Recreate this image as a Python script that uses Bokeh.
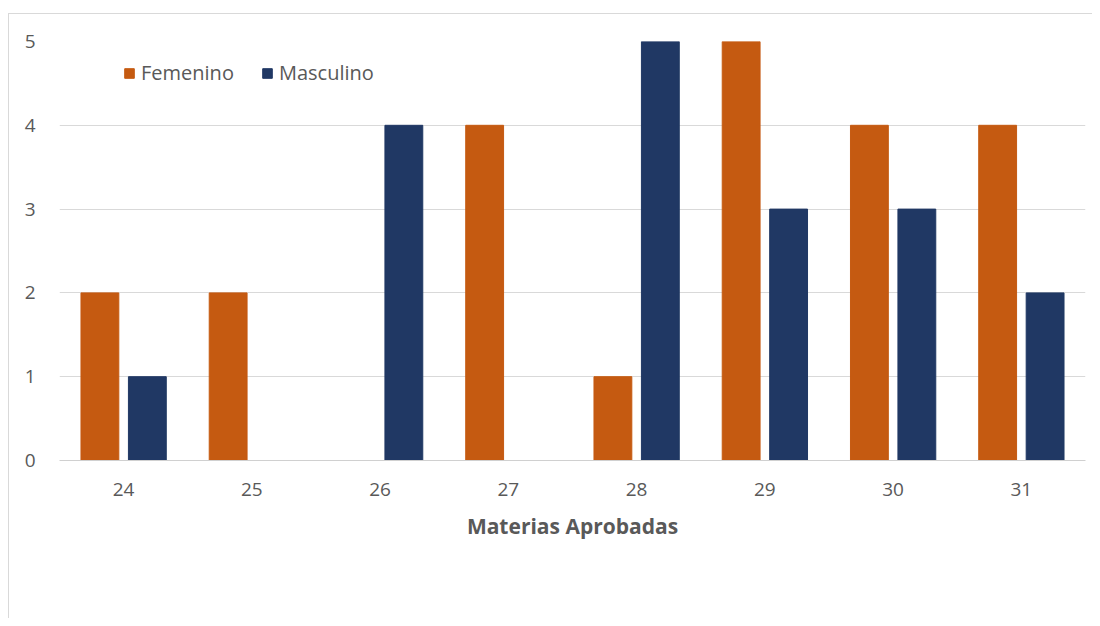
from bokeh.plotting import figure
from bokeh.models import ColumnDataSource, FactorRange, Legend, LegendItem
from bokeh.transform import dodge
from bokeh.embed import file_html
from bokeh.resources import INLINE

categories = ["24", "25", "26", "27", "28", "29", "30", "31"]
femenino = [2, 2, 0, 4, 1, 5, 4, 4]
masculino = [1, 0, 4, 0, 5, 3, 3, 2]
y_ticks = [0, 1, 2, 3, 4, 5]

src = ColumnDataSource(dict(x=categories, fem=femenino, masc=masculino))

FONT = "Open Sans"
GRAY = "#595959"

p = figure(x_range=FactorRange(*categories), y_range=(0, 5),
           width=1084, height=605, output_backend="svg", toolbar_location=None,
           min_border_left=50, min_border_right=8, min_border_top=27, min_border_bottom=159)
p.margin = (13, 0, 0, 8)
p.styles = {"border-top": "1px solid #d9d9d9", "border-left": "1px solid #d9d9d9"}
p.x_range.range_padding = 0
p.outline_line_color = None

r1 = p.vbar(x=dodge("x", -0.185, range=p.x_range), top="fem", width=0.295, source=src,
            fill_color="#C55A11", line_color="#C55A11")
r2 = p.vbar(x=dodge("x", 0.185, range=p.x_range), top="masc", width=0.295, source=src,
            fill_color="#203864", line_color="#203864")

p.xgrid.grid_line_color = None
p.ygrid.grid_line_color = "#d9d9d9"
p.ygrid.grid_line_width = 1
p.yaxis.ticker = y_ticks
p.yaxis.axis_line_color = None
p.yaxis.major_tick_line_color = None
p.yaxis.minor_tick_line_color = None
p.yaxis.major_label_text_font = FONT
p.yaxis.major_label_text_font_size = "19px"
p.yaxis.major_label_text_color = GRAY
p.yaxis.major_label_standoff = 18

p.xaxis.axis_line_color = "#d0d0d0"
p.xaxis.major_tick_line_color = None
p.xaxis.minor_tick_line_color = None
p.xaxis.major_label_text_font = FONT
p.xaxis.major_label_text_font_size = "19px"
p.xaxis.major_label_text_color = GRAY
p.xaxis.major_label_standoff = 16
p.xaxis.axis_label = "Materias Aprobadas"
p.xaxis.axis_label_text_font = FONT
p.xaxis.axis_label_text_font_size = "21px"
p.xaxis.axis_label_text_font_style = "bold"
p.xaxis.axis_label_text_color = GRAY
p.xaxis.axis_label_standoff = 13

legend = Legend(items=[LegendItem(label="Femenino", renderers=[r1]),
                       LegendItem(label="Masculino", renderers=[r2])],
                orientation="horizontal", location=(64, 374))
legend.border_line_color = None
legend.background_fill_alpha = 0
legend.padding = 0
legend.margin = 0
legend.spacing = 27
legend.glyph_width = 12
legend.glyph_height = 12
legend.label_standoff = 6
legend.label_text_font = FONT
legend.label_text_font_size = "20px"
legend.label_text_color = GRAY
p.add_layout(legend)

open("out.html", "w").write(file_html(p, INLINE))
